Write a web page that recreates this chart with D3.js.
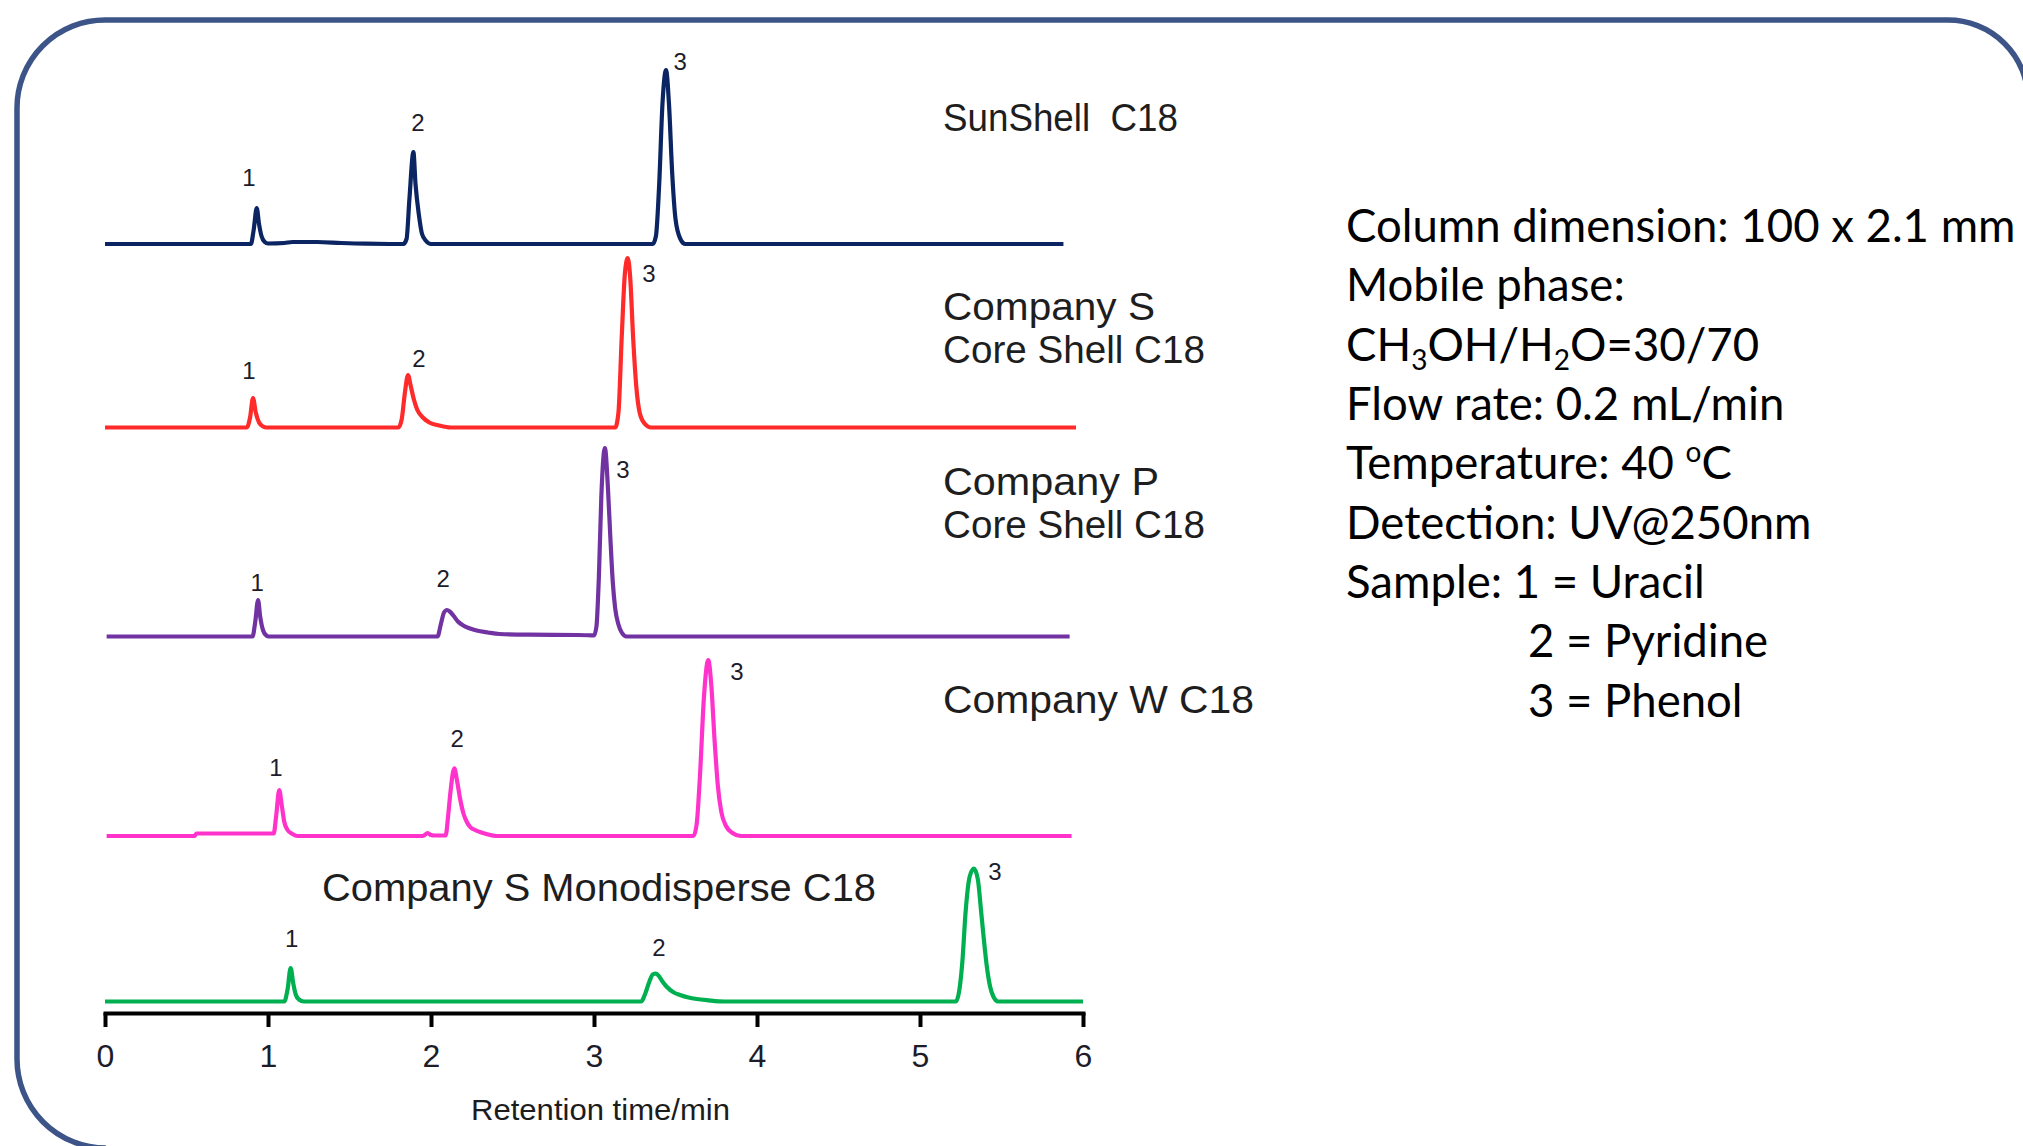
<!DOCTYPE html>
<html>
<head>
<meta charset="utf-8">
<script src="https://cdn.jsdelivr.net/npm/d3@7"></script>
<style>
  body { margin: 0; background: #fff; }
  svg { display: block; }
</style>
</head>
<body>
<div class="chrom-container"></div>
<script>
// x軸刻度 (min)
const timeTicks = [0, 1, 2, 3, 4, 5, 6];

// 五條層析圖的名稱 (一行一個字串)
const traceNames = [
  ['SunShell  C18'],
  ['Company S', 'Core Shell C18'],
  ['Company P', 'Core Shell C18'],
  ['Company W C18'],
  ['Company S Monodisperse C18']
];
const traceColors = ['#0b2462', '#ff2a2a', '#7233a2', '#ff33cc', '#00b050'];

// 每條線的基線高度 (堆疊位移, 相對訊號單位)
const baselineOffsets = [769, 585.5, 376.5, 177, 11.5];

// 讀圖得到的 [time(min), signal] 點
const sunshellPoints = [
  [0, 0], [0.895, 0], [0.912, 14], [0.931, 36], [0.945, 20], [0.96, 8], [0.98, 2], [1.0, 0.5],
  [1.1, 1], [1.15, 2], [1.3, 2], [1.45, 1], [1.6, 0.3], [1.8, 0],
  [1.83, 0], [1.85, 5], [1.868, 46], [1.892, 92], [1.905, 60], [1.925, 30], [1.945, 10], [1.97, 3], [2.0, 0],
  [3.36, 0], [3.38, 8], [3.40, 60], [3.42, 140], [3.442, 174], [3.46, 140], [3.48, 70], [3.50, 25], [3.53, 5], [3.56, 0],
  [5.88, 0]
];
const companySPoints = [
  [0, 0], [0.87, 0], [0.89, 10], [0.908, 29.5], [0.925, 15], [0.945, 5], [0.97, 1], [0.99, 0],
  [1.8, 0], [1.82, 8], [1.84, 35], [1.859, 52.5], [1.875, 42], [1.895, 28], [1.915, 18], [1.95, 10], [1.99, 5], [2.05, 2], [2.12, 0],
  [3.13, 0], [3.15, 15], [3.17, 90], [3.19, 155], [3.207, 169.5], [3.222, 150], [3.24, 90], [3.26, 40], [3.28, 15], [3.31, 4], [3.35, 0],
  [5.957, 0]
];
const companyPPoints = [
  [0.01, 0], [0.905, 0], [0.922, 15], [0.939, 36.5], [0.952, 20], [0.97, 6], [0.99, 1], [1.005, 0],
  [2.04, 0], [2.06, 12], [2.08, 24], [2.098, 26.5], [2.115, 25], [2.137, 21], [2.165, 15], [2.198, 11], [2.24, 8], [2.28, 6],
  [2.35, 4], [2.42, 2.5], [2.6, 1.8], [2.9, 1.5], [2.98, 1.2],
  [3.0, 1], [3.015, 10], [3.03, 60], [3.045, 140], [3.067, 188.5], [3.085, 150], [3.1, 100], [3.115, 55], [3.13, 28], [3.15, 12], [3.17, 4], [3.2, 0],
  [5.918, 0]
];
const companyWPoints = [
  [0.01, 0], [0.55, 0], [0.56, 2.5], [1.035, 2.5],
  [1.05, 20], [1.069, 46], [1.085, 30], [1.1, 14], [1.12, 6], [1.15, 2], [1.18, 0],
  [1.95, 0], [1.98, 3], [2.0, 1], [2.02, 0.5],
  [2.09, 0.5], [2.105, 20], [2.12, 45], [2.143, 67.7], [2.16, 55], [2.18, 36], [2.2, 22], [2.22, 14], [2.24, 9], [2.27, 6], [2.3, 4], [2.34, 2], [2.4, 0],
  [3.61, 0], [3.63, 12], [3.65, 60], [3.675, 140], [3.701, 176], [3.72, 150], [3.74, 95], [3.76, 50], [3.78, 25], [3.81, 10], [3.85, 3], [3.9, 0],
  [5.93, 0]
];
const monoPoints = [
  [0, 0], [1.1, 0], [1.12, 12], [1.139, 33.5], [1.155, 18], [1.17, 7], [1.19, 2], [1.22, 0],
  [3.29, 0], [3.31, 6], [3.34, 20], [3.36, 27], [3.38, 28], [3.4, 25], [3.42, 20], [3.446, 14.8], [3.49, 9], [3.528, 6.5],
  [3.58, 4], [3.63, 2.5], [3.7, 1.2], [3.8, 0],
  [5.22, 0], [5.24, 10], [5.26, 40], [5.28, 90], [5.305, 125], [5.331, 133], [5.355, 122], [5.375, 90], [5.39, 65], [5.41, 35], [5.43, 15], [5.45, 5], [5.48, 0],
  [6.0, 0]
];
const tracePoints = [sunshellPoints, companySPoints, companyPPoints, companyWPoints, monoPoints];

// 峰的編號 1/2/3 放在 [time, signal] (相對各自基線)
const peakLabelPoints = [
  [[0.883, 67], [1.92, 122], [3.528, 183]],
  [[0.883, 57.5], [1.926, 69.5], [3.337, 154.5]],
  [[0.933, 54.5], [2.074, 58.5], [3.178, 167.5]],
  [[1.049, 69], [2.16, 98], [3.877, 165]],
  [[1.145, 63.5], [3.399, 54.5], [5.46, 130.5]]
];
const peakNumbers = ['1', '2', '3'];

// 右邊的條件說明
const conditionLines = [
  'Column dimension: 100 x 2.1 mm',
  'Mobile phase:',
  'CH3OH/H2O=30/70',
  'Flow rate: 0.2 mL/min',
  'Temperature: 40 oC',
  'Detection: UV@250nm',
  'Sample: 1 = Uracil',
  '2 = Pyridine',
  '3 = Phenol'
];

function drawChart() {
  const svg_width = 2023;
  const svg_height = 1146;
  const svg = d3.select('.chrom-container').append('svg')
    .attr('width', svg_width).attr('height', svg_height)
    .style('font-family', '"Liberation Sans", Arial, sans-serif');

  // 圓角外框 (右下超出畫面)
  const f = { x0: 17, y0: 20, x1: 2028, y1: 1148, rTL: 88, rTR: 80, rBL: 89 };
  const framePath = d3.path();
  framePath.moveTo(f.x0, f.y1 - f.rBL);
  framePath.lineTo(f.x0, f.y0 + f.rTL);
  framePath.arcTo(f.x0, f.y0, f.x0 + f.rTL, f.y0, f.rTL);
  framePath.lineTo(f.x1 - f.rTR, f.y0);
  framePath.arcTo(f.x1, f.y0, f.x1, f.y0 + f.rTR, f.rTR);
  framePath.lineTo(f.x1, f.y1);
  framePath.moveTo(f.x0, f.y1 - f.rBL);
  framePath.arcTo(f.x0, f.y1, f.x0 + f.rBL, f.y1, f.rBL);
  svg.append('path').attr('d', framePath.toString())
    .attr('fill', 'none').attr('stroke', '#3c5487').attr('stroke-width', 5.5);

  // scales
  const axisY = 1013;
  const xScale = d3.scaleLinear().domain([0, 6]).range([105, 1083]);
  const yScale = d3.scaleLinear().domain([0, 1000]).range([axisY, axisY - 1000]);

  // 層析圖
  tracePoints.forEach((pts, i) => {
    const line = d3.line()
      .x(d => xScale(d[0]))
      .y(d => yScale(baselineOffsets[i] + d[1]))
      .curve(d3.curveMonotoneX);
    svg.append('path').datum(pts)
      .attr('class', 'trace')
      .attr('d', line)
      .attr('fill', 'none')
      .attr('stroke', traceColors[i])
      .attr('stroke-width', 4.2)
      .attr('stroke-linejoin', 'round');

    // 峰的編號
    svg.append('g').selectAll('text')
      .data(peakLabelPoints[i])
      .enter().append('text')
      .attr('x', d => xScale(d[0]))
      .attr('y', d => yScale(baselineOffsets[i] + d[1]))
      .attr('dy', '0.36em')
      .attr('text-anchor', 'middle')
      .style('font-size', '24px')
      .style('fill', '#1c1c2a')
      .text((d, j) => peakNumbers[j]);
  });

  // 系列名稱 (位置照原圖擺)
  const nameLayout = [
    { x: 943, y: 131, dy: 0, w: [235] },
    { x: 943, y: 320, dy: 43, w: [212, 262] },
    { x: 943, y: 495, dy: 43, w: [216, 262] },
    { x: 943, y: 713, dy: 0, w: [311] },
    { x: 322, y: 901, dy: 0, w: [554] }
  ];
  traceNames.forEach((lines, i) => {
    const L = nameLayout[i];
    lines.forEach((s, j) => {
      svg.append('text')
        .attr('x', L.x).attr('y', L.y + j * L.dy)
        .attr('textLength', L.w[j]).attr('lengthAdjust', 'spacingAndGlyphs')
        .style('white-space', 'pre')
        .style('font-size', '38px')
        .style('fill', '#1e1e1e')
        .text(s);
    });
  });

  // x axis
  const xAxis = d3.axisBottom(xScale).tickValues(timeTicks)
    .tickSizeInner(14).tickSizeOuter(0)
    .tickFormat(d3.format('d'));
  const xAxisDraw = svg.append('g').attr('class', 'x axis')
    .attr('transform', `translate(0,${axisY})`).call(xAxis);
  xAxisDraw.select('.domain').attr('stroke', '#000').attr('stroke-width', 4).attr('stroke-linecap', 'square');
  xAxisDraw.selectAll('.tick line').attr('stroke', '#000').attr('stroke-width', 4);
  xAxisDraw.selectAll('.tick text')
    .attr('y', 42).attr('dy', '0.36em')
    .style('font-size', '32px').style('font-family', '"Liberation Sans", Arial, sans-serif')
    .style('fill', '#1c1c2a');

  svg.append('text')
    .attr('x', 600.5).attr('y', 1120)
    .attr('text-anchor', 'middle')
    .attr('textLength', 259).attr('lengthAdjust', 'spacingAndGlyphs')
    .style('font-size', '30px').style('fill', '#1c1c1c')
    .text('Retention time/min');

  // 右側條件文字
  const info = svg.append('g').attr('class', 'conditions')
    .style('font-family', 'Lato, "Open Sans", sans-serif')
    .style('font-size', '45.5px').style('fill', '#000');
  const lineGap = 59.35;
  conditionLines.forEach((s, i) => {
    const t = info.append('text')
      .attr('x', i >= 7 ? 1528 : 1346)
      .attr('y', 242 + i * lineGap);
    if (s.startsWith('CH3')) {
      // 下標
      t.append('tspan').text('CH');
      t.append('tspan').attr('dy', 9).style('font-size', '28px').text('3');
      t.append('tspan').attr('dy', -9).text('OH/H');
      t.append('tspan').attr('dy', 9).style('font-size', '28px').text('2');
      t.append('tspan').attr('dy', -9).text('O=30/70');
    } else if (s.startsWith('Temperature')) {
      // 上標 o
      t.append('tspan').text('Temperature: 40 ');
      t.append('tspan').attr('dy', -17).style('font-size', '28px').text('o');
      t.append('tspan').attr('dy', 17).text('C');
    } else {
      t.text(s);
    }
  });
}

drawChart();
</script>
</body>
</html>
